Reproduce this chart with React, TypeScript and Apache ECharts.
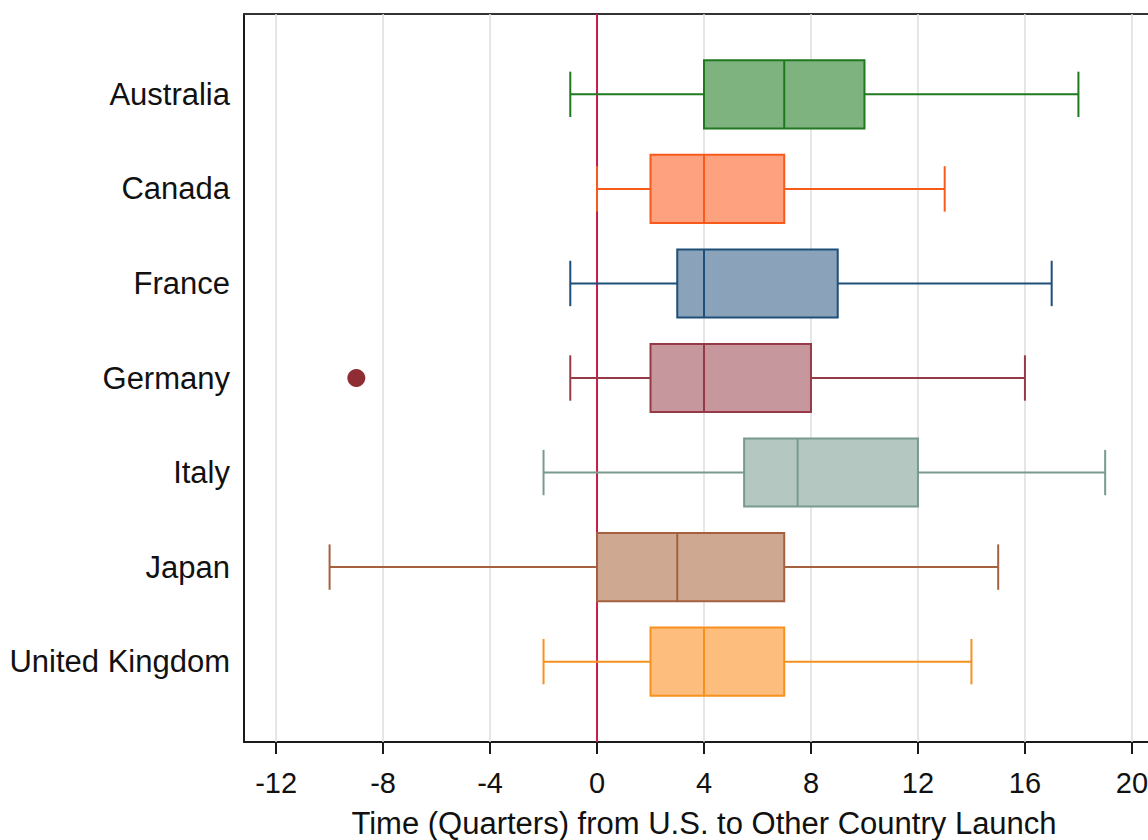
import React, { useEffect, useRef } from "react";
import * as echarts from "echarts";

const countries = ["Australia", "Canada", "France", "Germany", "Italy", "Japan", "United Kingdom"];
const whiskerLow = [-1, 0, -1, -1, -2, -10, -2];
const q1 = [4, 2, 3, 2, 5.5, 0, 2];
const median = [7, 4, 4, 4, 7.5, 3, 4];
const q3 = [10, 7, 9, 8, 12, 7, 7];
const whiskerHigh = [18, 13, 17, 16, 19, 15, 14];
const outlierValues = [-9];
const outlierCountry = ["Germany"];
const xTicks = [-12, -8, -4, 0, 4, 8, 12, 16, 20];
const refLine = [0];

const edgeColors = ["#1f7a1f", "#f85a1c", "#1f4e78", "#963a48", "#789a8f", "#a5603f", "#f7901e"];
const fillColors = ["#7eb27e", "#fda17f", "#8ba3ba", "#c6989d", "#b5c7c1", "#cfa892", "#fdbd7d"];

const X_MIN = -13.2;
const X_MAX = 21.2;
const Y_MIN = -0.85;
const Y_MAX = 6.85;
const FONT = "'Liberation Sans', Arial, sans-serif";

export default function App() {
  const ref = useRef<HTMLDivElement>(null);
  useEffect(() => {
    if (!ref.current) return;
    const chart = echarts.init(ref.current, null, { renderer: "svg" });

    const boxData = countries.map((c, i) => [i, whiskerLow[i], q1[i], median[i], q3[i], whiskerHigh[i]]);
    const outlierData = outlierValues.map((v, k) => [v, countries.indexOf(outlierCountry[k])]);

    const vLine = (color: string, width: number) => (params: any, api: any) => {
      const cs = params.coordSys;
      const x = api.coord([api.value(0), 0])[0];
      return {
        type: "line",
        shape: { x1: x, y1: cs.y, x2: x, y2: cs.y + cs.height },
        style: { stroke: color, lineWidth: width },
      };
    };

    chart.setOption({
      animation: false,
      backgroundColor: "#ffffff",
      grid: { left: 244, right: 2, top: 14, bottom: 98, containLabel: false, outerBoundsMode: "none" },
      xAxis: [
        {
          type: "value",
          min: X_MIN,
          max: X_MAX,
          position: "bottom",
          axisLine: { show: true, onZero: false, lineStyle: { color: "#1a1a1a", width: 2 } },
          axisTick: { show: true, customValues: xTicks, length: 12, lineStyle: { color: "#1a1a1a", width: 2 } },
          axisLabel: {
            customValues: xTicks,
            fontSize: 29,
            fontFamily: FONT,
            color: "#111111",
            margin: 26,
          },
          splitLine: { show: false },
          name: "Time (Quarters) from U.S. to Other Country Launch",
          nameLocation: "middle",
          nameGap: 66,
          nameTextStyle: { fontSize: 31, lineHeight: 31, fontFamily: FONT, color: "#111111" },
        },
        {
          type: "value",
          min: X_MIN,
          max: X_MAX,
          position: "top",
          axisLine: { show: true, onZero: false, lineStyle: { color: "#333333", width: 2 } },
          axisTick: { show: false },
          axisLabel: { show: false },
          splitLine: { show: false },
        },
      ],
      yAxis: {
        type: "value",
        min: Y_MIN,
        max: Y_MAX,
        inverse: true,
        axisLine: { show: true, onZero: false, lineStyle: { color: "#1a1a1a", width: 2 } },
        axisTick: { show: false },
        axisLabel: {
          customValues: countries.map((_, i) => i),
          formatter: (v: number) => countries[Math.round(v)] ?? "",
          fontSize: 31,
          fontFamily: FONT,
          color: "#111111",
          margin: 14,
        },
        splitLine: { show: false },
      },
      series: [
        {
          type: "custom",
          z: 1,
          silent: true,
          data: xTicks.map((v) => [v]),
          encode: { x: 0 },
          renderItem: vLine("#dedede", 1.5),
        },
        {
          type: "custom",
          z: 2,
          silent: true,
          data: refLine.map((v) => [v]),
          encode: { x: 0 },
          renderItem: vLine("#c81d4b", 2),
        },
        {
          type: "custom",
          z: 3,
          data: boxData,
          encode: { x: [1, 2, 3, 4, 5], y: 0 },
          renderItem: (params: any, api: any) => {
            const idx = api.value(0);
            const y = idx;
            const pLow = api.coord([api.value(1), y]);
            const pQ1 = api.coord([api.value(2), y]);
            const pMed = api.coord([api.value(3), y]);
            const pQ3 = api.coord([api.value(4), y]);
            const pHigh = api.coord([api.value(5), y]);
            const bh = api.size([0, 0.36])[1];
            const ch = api.size([0, 0.24])[1];
            const edge = edgeColors[idx];
            const fill = fillColors[idx];
            const ls = { stroke: edge, lineWidth: 2 };
            return {
              type: "group",
              children: [
                { type: "line", shape: { x1: pLow[0], y1: pLow[1], x2: pQ1[0], y2: pQ1[1] }, style: ls },
                { type: "line", shape: { x1: pQ3[0], y1: pQ3[1], x2: pHigh[0], y2: pHigh[1] }, style: ls },
                { type: "line", shape: { x1: pLow[0], y1: pLow[1] - ch, x2: pLow[0], y2: pLow[1] + ch }, style: ls },
                { type: "line", shape: { x1: pHigh[0], y1: pHigh[1] - ch, x2: pHigh[0], y2: pHigh[1] + ch }, style: ls },
                {
                  type: "rect",
                  shape: { x: pQ1[0], y: pQ1[1] - bh, width: pQ3[0] - pQ1[0], height: bh * 2 },
                  style: { fill, stroke: edge, lineWidth: 2 },
                },
                { type: "line", shape: { x1: pMed[0], y1: pMed[1] - bh, x2: pMed[0], y2: pMed[1] + bh }, style: ls },
              ],
            };
          },
        },
        {
          type: "scatter",
          z: 4,
          data: outlierData,
          symbol: "circle",
          symbolSize: 18,
          itemStyle: { color: "#8f2d35", opacity: 1 },
        },
      ],
    });
    return () => chart.dispose();
  }, []);
  return <div ref={ref} style={{ position: "fixed", left: 0, top: 0, width: 1166, height: 840 }} />;
}
